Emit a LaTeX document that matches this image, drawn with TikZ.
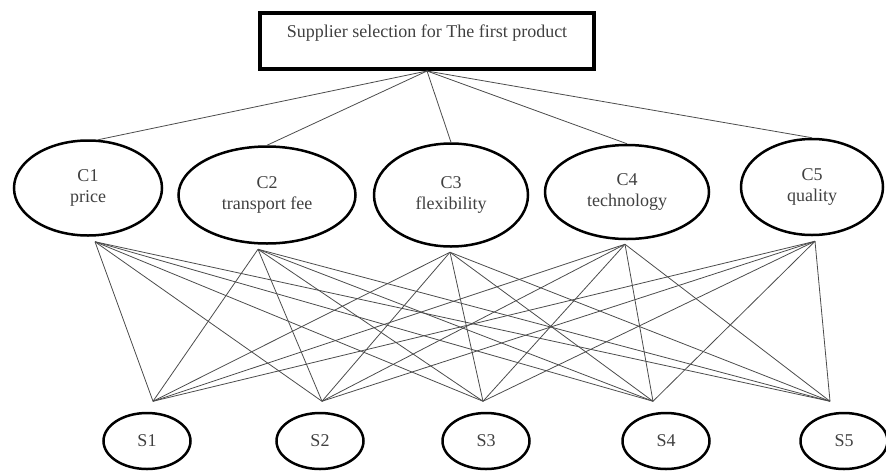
\documentclass[tikz,border=0pt]{standalone}
\usepackage{fontspec}
\setmainfont{Liberation Serif}
\usetikzlibrary{shapes.geometric}

\begin{document}
\begin{tikzpicture}[x=1pt, y=-1pt, font=\fontsize{18}{21}\selectfont,
goalbox/.style={draw,line width=4pt,inner sep=0pt,minimum width=334pt,minimum height=56pt,text depth=20pt,text=black!75},
crit/.style={draw,ellipse,line width=2.5pt,inner sep=0pt,align=center,text=black!75},
supp/.style={draw,ellipse,line width=2.5pt,inner sep=0pt,minimum width=87pt,minimum height=56pt,text=black!75},
link/.style={draw=black!70,line width=0.8pt}]
\useasboundingbox (0,0) rectangle (886,472);
\node[goalbox] (goal) at (427,41) {Supplier selection for The first product};
\node[crit,minimum width=148pt,minimum height=95pt] (C1) at (88,188) {C1\\price};
\node[crit,minimum width=177pt,minimum height=97pt] (C2) at (267,195) {C2\\transport fee};
\node[crit,minimum width=154pt,minimum height=103pt] (C3) at (451,195) {C3\\flexibility};
\node[crit,minimum width=164pt,minimum height=94pt] (C4) at (627,192) {C4\\technology};
\node[crit,minimum width=142pt,minimum height=96pt] (C5) at (812,187) {C5\\quality};
\node[supp] (S1) at (147,441) {S1};
\node[supp] (S2) at (320,441) {S2};
\node[supp] (S3) at (486,441) {S3};
\node[supp] (S4) at (666,441) {S4};
\node[supp] (S5) at (844,441) {S5};
% meeting points just outside the ellipses
\foreach \c/\dx/\dy in {1/7/5,2/-9/4.5,3/-1/4.5,4/-2/4,5/3/5}
  \coordinate (c\c) at ([shift={(\dx,\dy)}]C\c.south);
\foreach \s/\dx in {1/6,2/2,3/-3,4/-13,5/-14}
  \coordinate (s\s) at ([shift={(\dx,-10.5)}]S\s.north);
\foreach \c/\a in {1/78,2/90,3/90,4/90,5/90}
  \draw[link] (goal.south) -- (C\c.\a);
\foreach \c in {1,...,5}
  \foreach \s in {1,...,5}
    \draw[link] (c\c) -- (s\s);
\end{tikzpicture}
\end{document}
